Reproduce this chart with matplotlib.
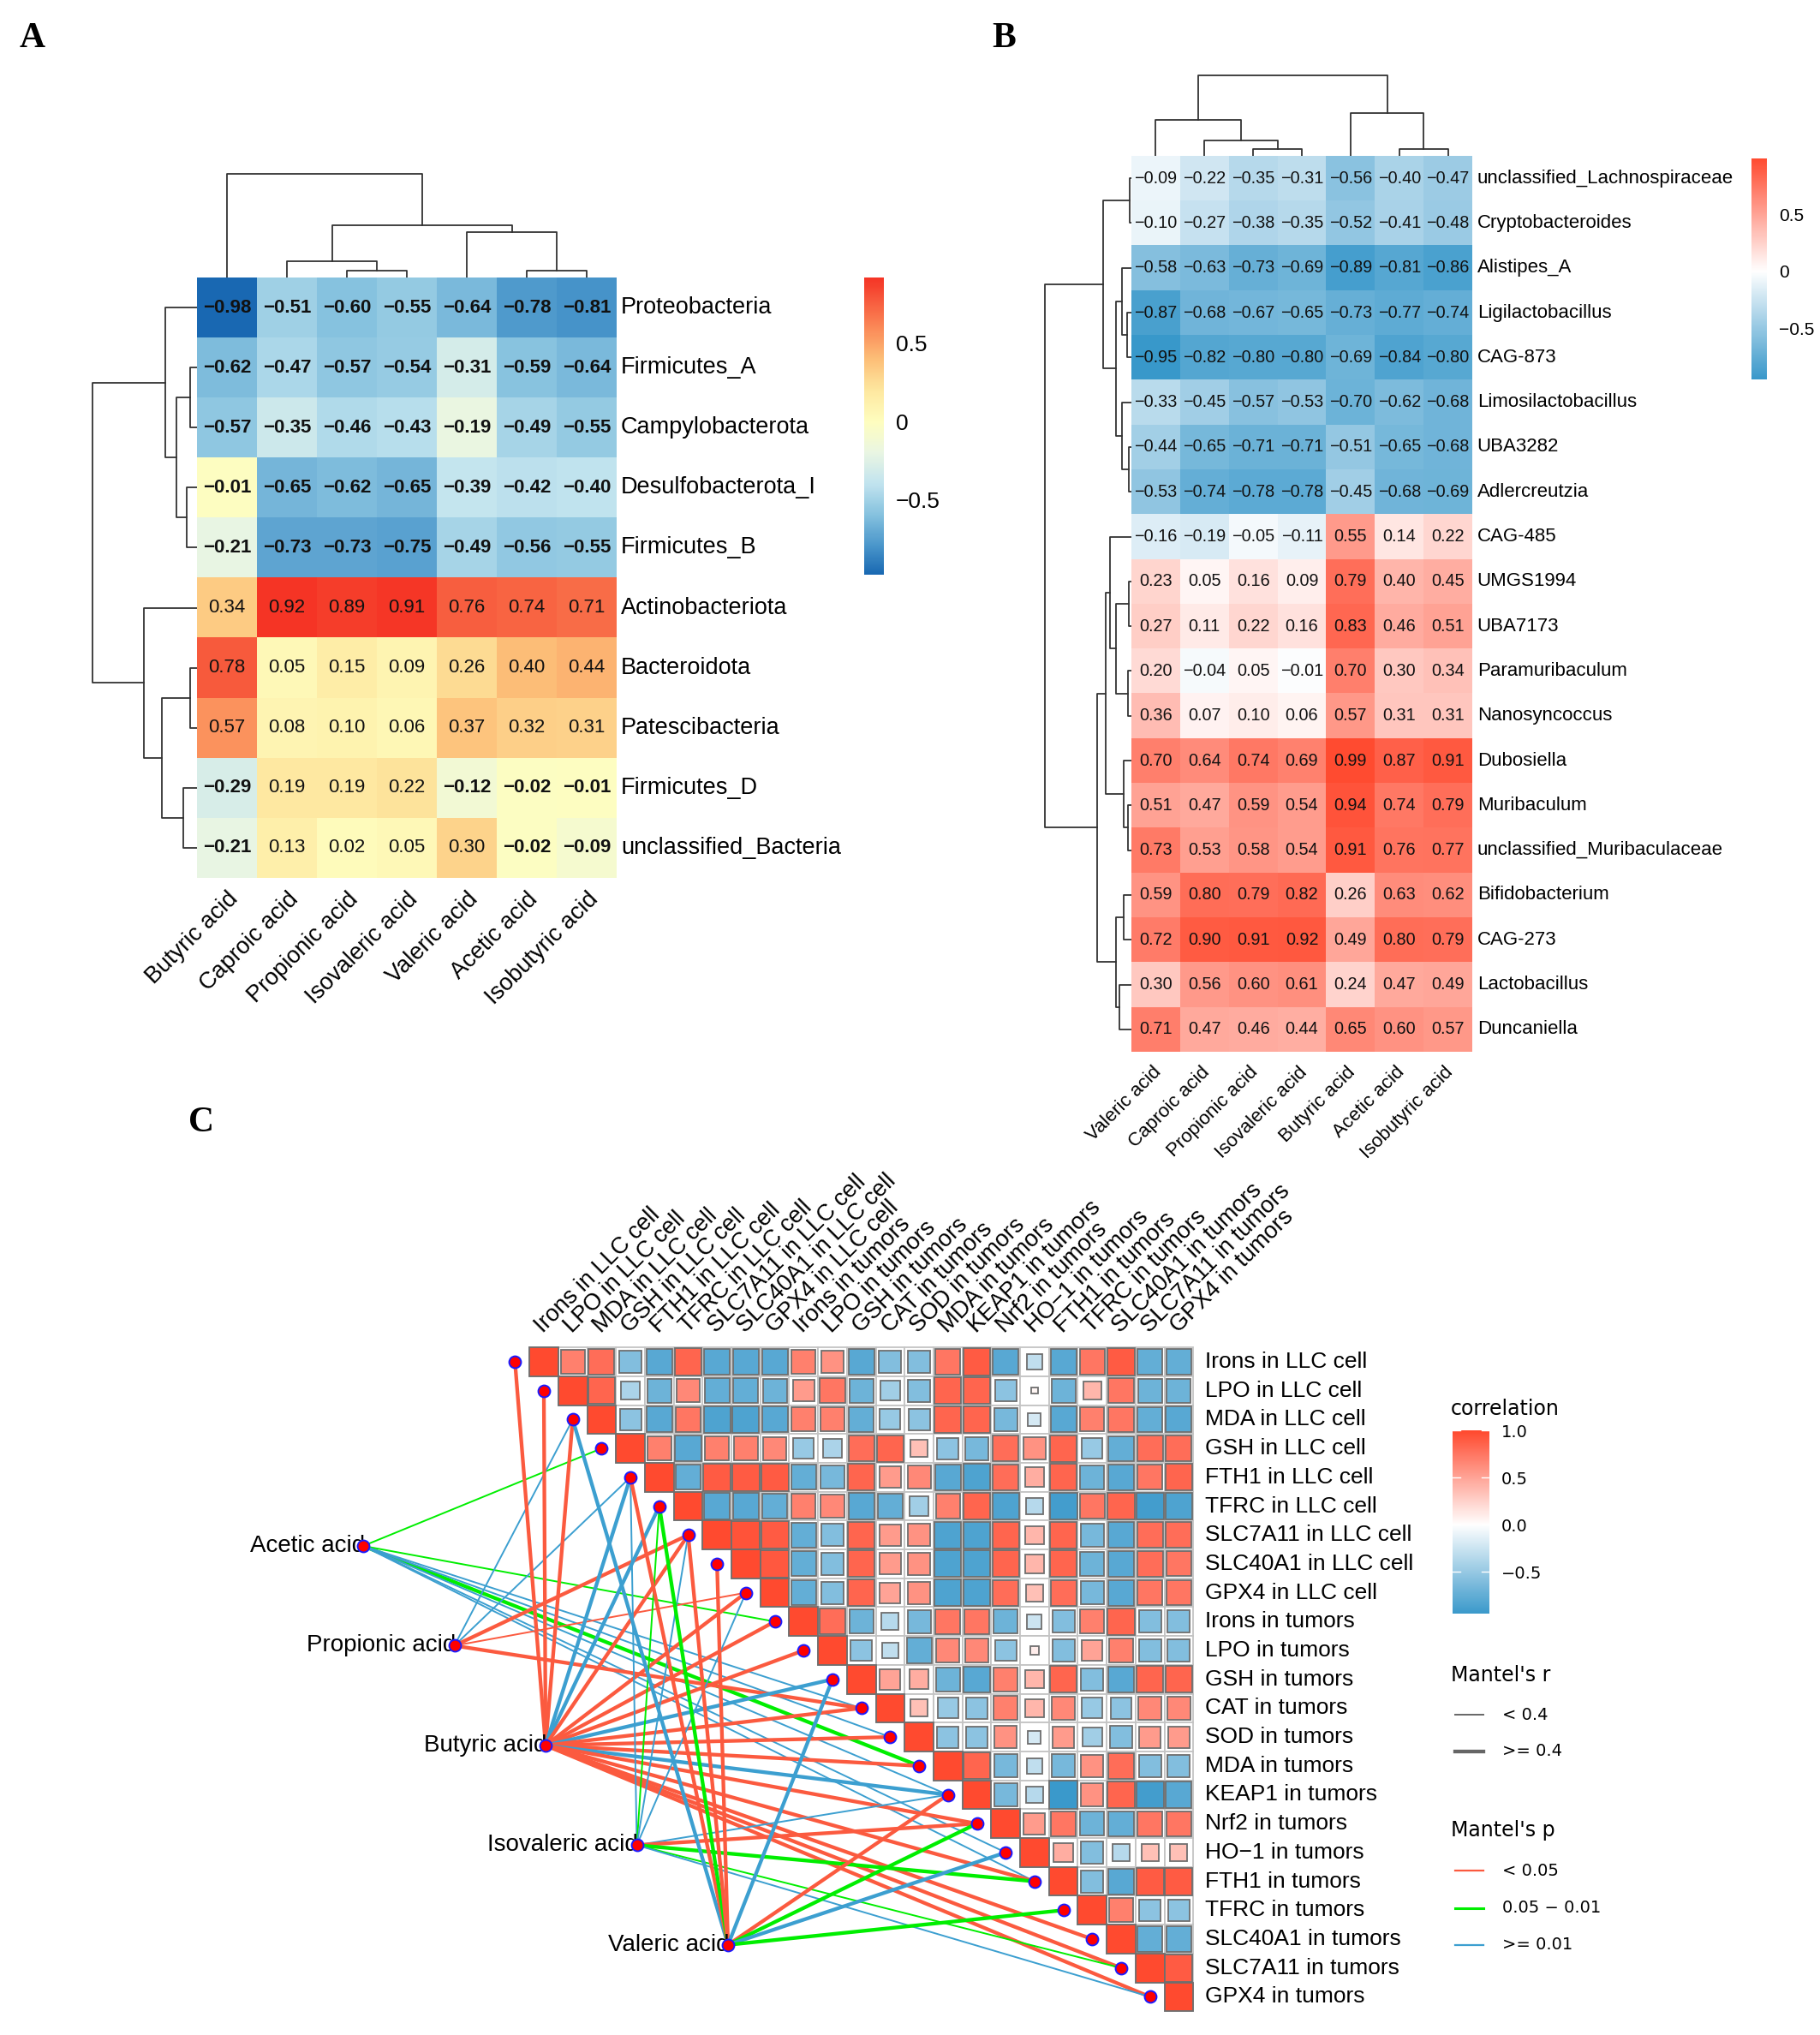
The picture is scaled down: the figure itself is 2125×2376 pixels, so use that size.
import numpy as np
import matplotlib
matplotlib.use('Agg')
import matplotlib.pyplot as plt
from matplotlib.colors import LinearSegmentedColormap
from matplotlib.patches import Rectangle
from matplotlib.lines import Line2D

# ---------------- data ----------------
# panel A
a_cols = ['Butyric acid', 'Caproic acid', 'Propionic acid', 'Isovaleric acid',
          'Valeric acid', 'Acetic acid', 'Isobutyric acid']
a_rows = ['Proteobacteria', 'Firmicutes_A', 'Campylobacterota', 'Desulfobacterota_I',
          'Firmicutes_B', 'Actinobacteriota', 'Bacteroidota', 'Patescibacteria',
          'Firmicutes_D', 'unclassified_Bacteria']
a_vals = [[-0.98, -0.51, -0.60, -0.55, -0.64, -0.78, -0.81],
          [-0.62, -0.47, -0.57, -0.54, -0.31, -0.59, -0.64],
          [-0.57, -0.35, -0.46, -0.43, -0.19, -0.49, -0.55],
          [-0.01, -0.65, -0.62, -0.65, -0.39, -0.42, -0.40],
          [-0.21, -0.73, -0.73, -0.75, -0.49, -0.56, -0.55],
          [0.34, 0.92, 0.89, 0.91, 0.76, 0.74, 0.71],
          [0.78, 0.05, 0.15, 0.09, 0.26, 0.40, 0.44],
          [0.57, 0.08, 0.10, 0.06, 0.37, 0.32, 0.31],
          [-0.29, 0.19, 0.19, 0.22, -0.12, -0.02, -0.01],
          [-0.21, 0.13, 0.02, 0.05, 0.30, -0.02, -0.09]]
# dendrograms: (left, right, height)
a_col_tree = (0, ((1, (2, 3, 8.3), 19), (4, (5, 6, 8.3), 53), 61), 121)
a_row_tree = ((0, ((1, 2, 8.5), (3, 4, 11.8), 23.6), 37),
              (5, ((6, 7, 8.5), (8, 9, 15.6), 41), 62), 122)

# panel B
b_cols = ['Valeric acid', 'Caproic acid', 'Propionic acid', 'Isovaleric acid',
          'Butyric acid', 'Acetic acid', 'Isobutyric acid']
b_rows = ['unclassified_Lachnospiraceae', 'Cryptobacteroides', 'Alistipes_A',
          'Ligilactobacillus', 'CAG-873', 'Limosilactobacillus', 'UBA3282',
          'Adlercreutzia', 'CAG-485', 'UMGS1994', 'UBA7173', 'Paramuribaculum',
          'Nanosyncoccus', 'Dubosiella', 'Muribaculum', 'unclassified_Muribaculaceae',
          'Bifidobacterium', 'CAG-273', 'Lactobacillus', 'Duncaniella']
b_vals = [[-0.09, -0.22, -0.35, -0.31, -0.56, -0.40, -0.47],
          [-0.10, -0.27, -0.38, -0.35, -0.52, -0.41, -0.48],
          [-0.58, -0.63, -0.73, -0.69, -0.89, -0.81, -0.86],
          [-0.87, -0.68, -0.67, -0.65, -0.73, -0.77, -0.74],
          [-0.95, -0.82, -0.80, -0.80, -0.69, -0.84, -0.80],
          [-0.33, -0.45, -0.57, -0.53, -0.70, -0.62, -0.68],
          [-0.44, -0.65, -0.71, -0.71, -0.51, -0.65, -0.68],
          [-0.53, -0.74, -0.78, -0.78, -0.45, -0.68, -0.69],
          [-0.16, -0.19, -0.05, -0.11, 0.55, 0.14, 0.22],
          [0.23, 0.05, 0.16, 0.09, 0.79, 0.40, 0.45],
          [0.27, 0.11, 0.22, 0.16, 0.83, 0.46, 0.51],
          [0.20, -0.04, 0.05, -0.01, 0.70, 0.30, 0.34],
          [0.36, 0.07, 0.10, 0.06, 0.57, 0.31, 0.31],
          [0.70, 0.64, 0.74, 0.69, 0.99, 0.87, 0.91],
          [0.51, 0.47, 0.59, 0.54, 0.94, 0.74, 0.79],
          [0.73, 0.53, 0.58, 0.54, 0.91, 0.76, 0.77],
          [0.59, 0.80, 0.79, 0.82, 0.26, 0.63, 0.62],
          [0.72, 0.90, 0.91, 0.92, 0.49, 0.80, 0.79],
          [0.30, 0.56, 0.60, 0.61, 0.24, 0.47, 0.49],
          [0.71, 0.47, 0.46, 0.44, 0.65, 0.60, 0.57]]
b_col_tree = ((0, (1, (2, 3, 7.7), 18), 42), (4, (5, 6, 8.4), 50), 94)
b_row_top = ((0, 1, 2), ((2, (3, 4, 4.9), 11), (5, (6, 7, 3), 11), 18.4), 33)
b_row_bottom = (((8, ((9, 10, 3), (11, 12, 4), 18), 25), (13, (14, 15, 4), 9), 30),
                ((16, 17, 9), (18, 19, 14), 18), 40)
b_row_tree = (b_row_top, b_row_bottom, 101)

# panel C
acids = ['Acetic acid', 'Propionic acid', 'Butyric acid', 'Isovaleric acid', 'Valeric acid']
c_vars = ['Irons in LLC cell', 'LPO in LLC cell', 'MDA in LLC cell', 'GSH in LLC cell',
          'FTH1 in LLC cell', 'TFRC in LLC cell', 'SLC7A11 in LLC cell',
          'SLC40A1 in LLC cell', 'GPX4 in LLC cell', 'Irons in tumors', 'LPO in tumors',
          'GSH in tumors', 'CAT in tumors', 'SOD in tumors', 'MDA in tumors',
          'KEAP1 in tumors', 'Nrf2 in tumors', 'HO\u22121 in tumors', 'FTH1 in tumors',
          'TFRC in tumors', 'SLC40A1 in tumors', 'SLC7A11 in tumors', 'GPX4 in tumors']
# upper triangle, row i holds r(i, j) for j > i
c_upper = [
    [0.70, 0.80, -0.60, -0.80, 0.85, -0.80, -0.80, -0.80, 0.70, 0.60, -0.80, -0.60, -0.60, 0.75, 0.90, -0.80, -0.30, -0.80, 0.75, 0.90, -0.75, -0.75],
    [0.85, -0.40, -0.70, 0.65, -0.75, -0.75, -0.70, 0.55, 0.75, -0.70, -0.45, -0.60, 0.85, 0.85, -0.55, 0.05, -0.70, 0.40, 0.75, -0.70, -0.70],
    [-0.55, -0.80, 0.75, -0.85, -0.85, -0.80, 0.70, 0.70, -0.75, -0.50, -0.55, 0.85, 0.85, -0.65, -0.20, -0.80, 0.70, 0.75, -0.75, -0.80],
    [0.70, -0.80, 0.70, 0.70, 0.65, -0.50, -0.40, 0.80, 0.85, 0.35, -0.55, -0.65, 0.80, 0.60, 0.85, -0.50, -0.75, 0.80, 0.80],
    [-0.75, 0.90, 0.90, 0.90, -0.75, -0.65, 0.85, 0.55, 0.65, -0.80, -0.85, 0.80, 0.45, 0.85, -0.70, -0.80, 0.75, 0.85],
    [-0.80, -0.80, -0.75, 0.70, 0.65, -0.80, -0.75, -0.45, 0.70, 0.85, -0.85, -0.35, -0.90, 0.75, 0.85, -0.90, -0.85],
    [0.95, 0.90, -0.75, -0.60, 0.85, 0.55, 0.60, -0.85, -0.85, 0.85, 0.40, 0.85, -0.65, -0.80, 0.80, 0.80],
    [0.92, -0.75, -0.60, 0.85, 0.55, 0.60, -0.85, -0.85, 0.85, 0.40, 0.85, -0.70, -0.80, 0.80, 0.75],
    [-0.75, -0.60, 0.85, 0.50, 0.60, -0.85, -0.85, 0.80, 0.35, 0.80, -0.65, -0.80, 0.75, 0.75],
    [0.80, -0.70, -0.35, -0.65, 0.75, 0.75, -0.70, -0.25, -0.60, 0.70, 0.85, -0.60, -0.60],
    [-0.55, -0.30, -0.75, 0.65, 0.65, -0.55, 0.10, -0.60, 0.50, 0.70, -0.60, -0.60],
    [0.50, 0.45, -0.70, -0.80, 0.70, 0.40, 0.85, -0.60, -0.80, 0.85, 0.85],
    [0.35, -0.50, -0.55, 0.70, 0.40, 0.65, -0.50, -0.55, 0.65, 0.65],
    [-0.55, -0.55, 0.60, -0.20, 0.55, -0.45, -0.60, 0.55, 0.55],
    [0.85, -0.65, -0.30, -0.65, 0.60, 0.80, -0.60, -0.60],
    [-0.65, -0.35, -0.94, 0.60, 0.85, -0.90, -0.80],
    [0.55, 0.75, -0.70, -0.75, 0.75, 0.75],
    [0.45, -0.60, -0.35, 0.35, 0.35],
    [-0.60, -0.80, 0.90, 0.90],
    [0.70, -0.55, -0.55],
    [-0.75, -0.75],
    [0.90],
]
c_limits = (-0.94, 1.0)

# Mantel links: acid index, variable index, p class (0 <0.05, 1 0.05-0.01, 2 >=0.01), r class (0 <0.4, 1 >=0.4)
link_from = [0] * 8 + [1] * 5 + [2] * 19 + [3] * 9 + [4] * 10
link_to = [3, 9, 14, 12, 13, 15, 17, 18,
           2, 4, 6, 8, 12,
           0, 1, 2, 4, 5, 6, 8, 9, 10, 11, 12, 13, 14, 15, 16, 18, 20, 21, 22,
           4, 5, 6, 8, 15, 16, 18, 21, 22,
           2, 4, 5, 6, 7, 11, 15, 16, 17, 19]
link_p = [1, 1, 1, 2, 2, 2, 2, 2,
          2, 2, 0, 0, 0,
          0, 0, 0, 2, 2, 0, 0, 0, 0, 2, 0, 0, 0, 2, 0, 0, 0, 0, 0,
          2, 1, 2, 2, 2, 0, 1, 1, 2,
          2, 0, 1, 0, 0, 2, 0, 1, 2, 1]
link_r = [0, 0, 1, 0, 0, 0, 0, 0,
          0, 0, 1, 0, 1,
          1, 1, 1, 1, 1, 1, 1, 1, 1, 1, 1, 1, 1, 1, 1, 1, 1, 1, 1,
          0, 0, 0, 0, 0, 1, 1, 0, 0,
          1, 1, 1, 1, 1, 1, 1, 1, 1, 1]
p_labels = ['< 0.05', '0.05 \u2212 0.01', '>= 0.01']
r_labels = ['< 0.4', '>= 0.4']

# ---------------- styling ----------------
W, H = 2125, 2376
plt.rcParams['font.family'] = ['Liberation Sans', 'DejaVu Sans']
fig = plt.figure(figsize=(W / 100, H / 100), dpi=100)

cmap_a = LinearSegmentedColormap.from_list('a', [
    (0.0, '#1565b0'), (0.1, '#4a96cb'), (0.2, '#86c2df'), (0.3, '#c2e4ef'),
    (0.4, '#eaf6e3'), (0.5, '#fffebf'), (0.6, '#fee8a0'), (0.7, '#fdbf78'),
    (0.8, '#fb8a58'), (0.9, '#f7553a'), (1.0, '#f42018')])
cmap_bc = LinearSegmentedColormap.from_list('bc', ['#2f93c8', '#ffffff', '#ff4a2f'])
p_colors = ['#fb5a3f', '#00ee00', '#3c9fd0']
r_widths = [1.4, 3.1]
tree_color = '#333333'


def px_axes(x0, y0, x1, y1):
    return fig.add_axes([x0 / W, 1 - y1 / H, (x1 - x0) / W, (y1 - y0) / H])


def draw_tree(ax, node, orient):
    if isinstance(node, int):
        return node, 0.0
    left, right, h = node
    xl, hl = draw_tree(ax, left, orient)
    xr, hr = draw_tree(ax, right, orient)
    if orient == 'top':
        ax.plot([xl, xl, xr, xr], [hl, h, h, hr], color=tree_color, lw=1.3)
    else:
        ax.plot([hl, h, h, hr], [xl, xl, xr, xr], color=tree_color, lw=1.3)
    return (xl + xr) / 2, h


def colorbar(ax, cmap, lo, hi, ticks, fs, fam, white_ticks=False):
    grad = np.linspace(hi, lo, 256).reshape(-1, 1)
    ax.imshow(grad, cmap=cmap, vmin=-1, vmax=1, aspect='auto',
              extent=(0, 1, lo, hi), interpolation='bilinear')
    ax.set_xlim(0, 1)
    ax.set_ylim(lo, hi)
    for s in ax.spines.values():
        s.set_visible(False)
    ax.set_xticks([])
    ax.yaxis.tick_right()
    ax.set_yticks(ticks)
    ax.set_yticklabels([('%g' % t).replace('-', '\u2212') if not white_ticks else
                        ('%.1f' % t).replace('-', '\u2212') for t in ticks],
                       fontsize=fs, family=fam)
    ax.tick_params(axis='y', length=0, pad=10)
    if white_ticks:
        for t in ticks:
            ax.plot([0, 0.2], [t, t], color='white', lw=1)
            ax.plot([0.8, 1], [t, t], color='white', lw=1)


def fmt(v):
    return ('%.2f' % v).replace('-', '\u2212')


# ---------------- panel A ----------------
av = np.array(a_vals)
ax_a = px_axes(230, 324, 720, 1025)
ax_a.imshow(av, cmap=cmap_a, vmin=-1, vmax=1, aspect='auto', interpolation='nearest')
ax_a.axis('off')
for i in range(av.shape[0]):
    for j in range(av.shape[1]):
        v = av[i, j]
        ax_a.text(j, i, fmt(v), ha='center', va='center', fontsize=16,
                  fontweight='bold' if v < 0 else 'normal', color='#111111')
    ax_a.text(av.shape[1] - 0.5 + 0.07, i, a_rows[i], ha='left', va='center',
              fontsize=19.5, clip_on=False)
for j, lab in enumerate(a_cols):
    ax_a.text(j + 0.13, av.shape[0] - 0.5 + 0.3, lab, rotation=45, rotation_mode='anchor',
              ha='right', va='center', fontsize=19.5, clip_on=False)

ax_ad = px_axes(230, 200, 720, 324)
draw_tree(ax_ad, a_col_tree, 'top')
ax_ad.set_xlim(-0.5, av.shape[1] - 0.5)
ax_ad.set_ylim(0, 124)
ax_ad.axis('off')

ax_ar = px_axes(105, 324, 230, 1025)
draw_tree(ax_ar, a_row_tree, 'left')
ax_ar.set_xlim(125, 0)
ax_ar.set_ylim(av.shape[0] - 0.5, -0.5)
ax_ar.axis('off')

ax_acb = px_axes(1009, 324, 1032, 671)
colorbar(ax_acb, cmap_a, av.min(), av.max(), [-0.5, 0, 0.5], 19, 'Liberation Sans')

# ---------------- panel B ----------------
bv = np.array(b_vals)
ax_b = px_axes(1321, 182, 1719, 1228)
ax_b.imshow(bv, cmap=cmap_bc, vmin=-1, vmax=1, aspect='auto', interpolation='nearest')
ax_b.axis('off')
for i in range(bv.shape[0]):
    for j in range(bv.shape[1]):
        ax_b.text(j, i, fmt(bv[i, j]), ha='center', va='center', fontsize=14.3, color='#111111')
    ax_b.text(bv.shape[1] - 0.5 + 0.1, i, b_rows[i], ha='left', va='center',
              fontsize=16, clip_on=False)
for j, lab in enumerate(b_cols):
    ax_b.text(j + 0.05, bv.shape[0] - 0.5 + 0.4, lab, rotation=45, rotation_mode='anchor',
              ha='right', va='center', fontsize=16, clip_on=False)

ax_bd = px_axes(1321, 86, 1719, 182)
draw_tree(ax_bd, b_col_tree, 'top')
ax_bd.set_xlim(-0.5, bv.shape[1] - 0.5)
ax_bd.set_ylim(0, 96)
ax_bd.axis('off')

ax_br = px_axes(1218, 182, 1321, 1228)
draw_tree(ax_br, b_row_tree, 'left')
ax_br.set_xlim(103, 0)
ax_br.set_ylim(bv.shape[0] - 0.5, -0.5)
ax_br.axis('off')

ax_bcb = px_axes(2045, 185, 2063, 443)
colorbar(ax_bcb, cmap_bc, bv.min(), bv.max(), [-0.5, 0, 0.5], 15, 'Liberation Sans')

# ---------------- panel C ----------------
n = len(c_vars)
cmat = np.eye(n)
for i, row in enumerate(c_upper):
    for k, v in enumerate(row):
        cmat[i, i + 1 + k] = v

U = 33.7
ox, oy = 635, 1590
xlo, xhi, ylo, yhi = -7, 23, -1, 23
ax_c = px_axes(ox + xlo * U, oy + ylo * U, ox + xhi * U, oy + yhi * U)
ax_c.set_xlim(xlo, xhi)
ax_c.set_ylim(yhi, ylo)
ax_c.axis('off')

for i in range(n):
    for j in range(i, n):
        r = cmat[i, j]
        ax_c.add_patch(Rectangle((j - 0.5, i - 0.5), 1, 1, facecolor='white',
                                 edgecolor='#c4c4c4', lw=1.3, zorder=1))
        s = np.sqrt(abs(r))
        ax_c.add_patch(Rectangle((j - s / 2, i - s / 2), s, s,
                                 facecolor=cmap_bc((r + 1) / 2),
                                 edgecolor='#6e6e6e', lw=1.3, zorder=2))
    ax_c.text(n - 0.5 + 0.4, i, c_vars[i], ha='left', va='center', fontsize=19,
              clip_on=False)
    ax_c.text(i + 0.1, -0.85, c_vars[i], rotation=45, rotation_mode='anchor',
              ha='left', va='bottom', fontsize=19.5, clip_on=False)

acid_xy = [(-6.26 + 3.16 * k, 6.38 + 3.455 * k) for k in range(len(acids))]
for a, t, p, r in zip(link_from, link_to, link_p, link_r):
    x0, y0 = acid_xy[a]
    ax_c.plot([x0, t - 1], [y0, t], color=p_colors[p], lw=r_widths[r],
              solid_capstyle='round', zorder=3)
ax_c.plot([i - 1 for i in range(n)], list(range(n)), 'o', ms=10, mfc='#ff0000',
          mec='#1a1aff', mew=1.4, ls='none', zorder=5, clip_on=False)
ax_c.plot([p[0] for p in acid_xy], [p[1] for p in acid_xy], 'o', ms=10, mfc='#ff0000',
          mec='#1a1aff', mew=1.4, ls='none', zorder=5, clip_on=False)
for k, name in enumerate(acids):
    ax_c.text(acid_xy[k][0] + 0.05, acid_xy[k][1], name, ha='right', va='center',
              fontsize=20, clip_on=False, zorder=4)

ax_ccb = px_axes(1696, 1670, 1739, 1884)
colorbar(ax_ccb, cmap_bc, c_limits[0], c_limits[1], [-0.5, 0.0, 0.5, 1.0], 14,
         'DejaVu Sans', white_ticks=True)

# legends and panel letters on an overlay in pixel units
ov = fig.add_axes([0, 0, 1, 1])
ov.set_xlim(0, W)
ov.set_ylim(H, 0)
ov.axis('off')
ov.text(1694, 1645, 'correlation', fontsize=17, family='DejaVu Sans', va='center')
ov.text(1694, 1956, "Mantel's r", fontsize=17, family='DejaVu Sans', va='center')
for k, lab in enumerate(r_labels):
    y = 2002 + 43 * k
    ov.add_line(Line2D([1699, 1732], [y, y], color='#666666', lw=r_widths[k]))
    ov.text(1754, y, lab, fontsize=14, family='DejaVu Sans', va='center')
ov.text(1694, 2137, "Mantel's p", fontsize=17, family='DejaVu Sans', va='center')
for k, lab in enumerate(p_labels):
    y = 2184 + 43.5 * k
    ov.add_line(Line2D([1699, 1732], [y, y], color=p_colors[k], lw=2.2 if k == 1 else 1.6))
    ov.text(1754, y, lab, fontsize=14, family='DejaVu Sans', va='center')

for letter, x, y in [('A', 38, 45), ('B', 1172, 45), ('C', 235, 1311)]:
    ov.text(x, y, letter, fontsize=30, fontweight='bold', family='Liberation Serif',
            ha='center', va='center')

fig.savefig('out.png', dpi=100)
